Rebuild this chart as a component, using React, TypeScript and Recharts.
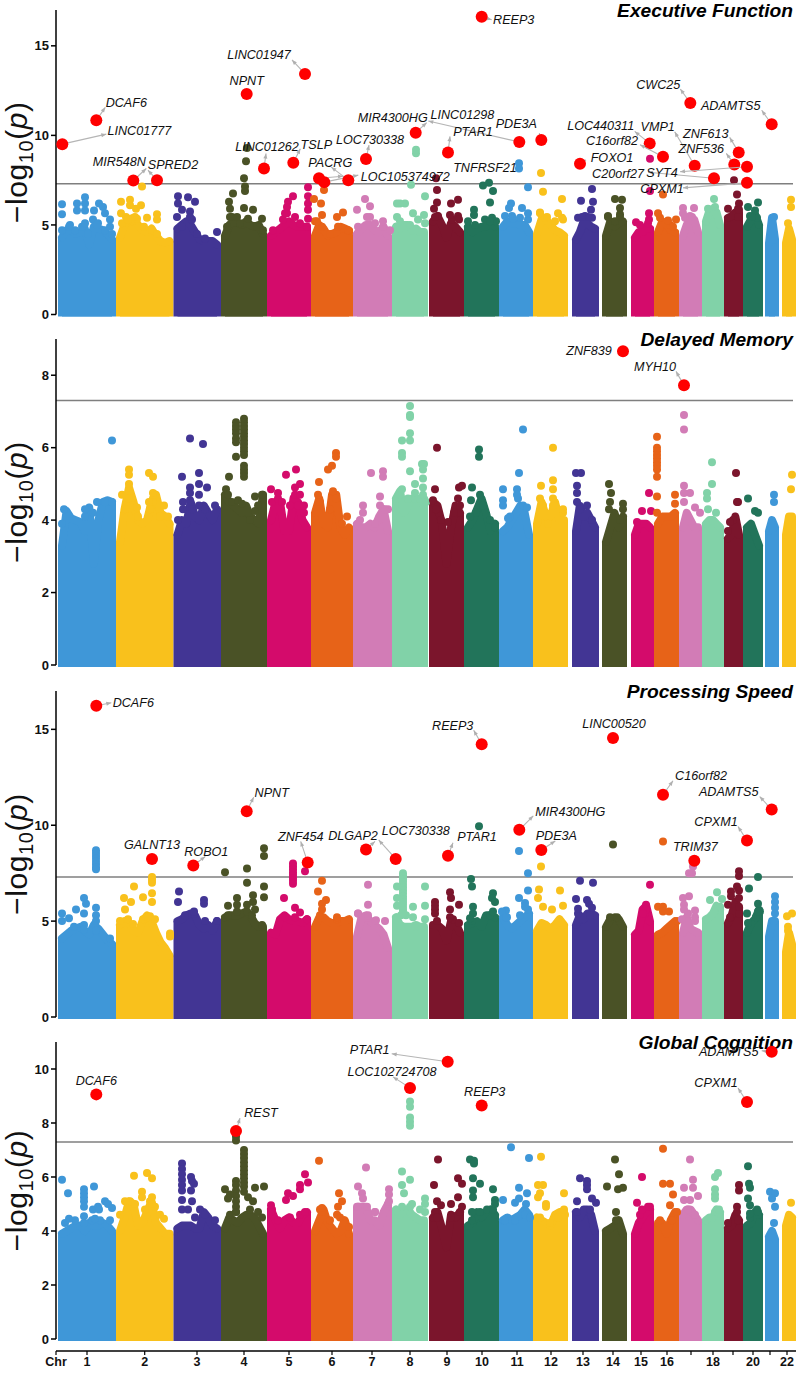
import React from "react";
import { Area, ComposedChart, ReferenceLine, Scatter, XAxis, YAxis } from "recharts";

const FONT = "'Liberation Sans', Arial, sans-serif";

// chromosome extents on the shared genome axis
const chromStart = [58, 116, 173.5, 221, 267, 311, 353, 392, 429, 464, 499, 533, 572, 602, 631, 654, 679, 702, 724, 743, 765, 782];
const chromEnd = [116, 173.5, 221, 267, 311, 353, 392, 428, 464, 499, 533, 568, 599, 627, 654, 679, 702, 724, 743, 763, 779, 796];
const chromColors = [
  "#3F97D8", "#F9C11C", "#423594", "#4A5226", "#D40B6B", "#E76318", "#D27CB6", "#81D2A8", "#7B152C", "#22745A", "#3F97D8",
  "#F9C11C", "#423594", "#4A5226", "#D40B6B", "#E76318", "#D27CB6", "#81D2A8", "#7B152C", "#22745A", "#3F97D8", "#F9C11C",
];
const xTicks = [56, 87, 144.7, 197, 244, 289, 332, 372, 410, 447, 482, 517, 551, 583, 613, 641, 667, 691, 713, 733, 753, 770, 787];
const xTickLabels = ["Chr", "1", "2", "3", "4", "5", "6", "7", "8", "9", "10", "11", "12", "13", "14", "15", "16", "", "18", "", "20", "", "22"];
const threshold = 7.3;

// top of the solid mass, left to right along each chromosome
const envelope1 = [
  [4.3, 4.7, 4.7, 4.5, 4.6, 4.8, 3.9, 4.9, 4.8, 4.7, 4.5, 4.2], [4.3, 5.0, 5.3, 5.4, 5.0, 4.7, 4.6, 4.8, 4.4, 4.1, 4.0, 4.1],
  [4.8, 5.0, 5.2, 5.0, 4.6, 4.2, 4.1, 4.1, 4.1, 3.9], [4.4, 5.0, 5.2, 5.1, 5.0, 5.2, 5.0, 4.9, 5.0, 4.5],
  [4.4, 4.6, 4.8, 5.0, 5.2, 5.0, 4.9, 4.9, 4.9], [4.4, 5.0, 4.8, 4.4, 4.5, 4.6, 4.9, 4.8, 4.7],
  [4.5, 4.8, 5.0, 5.0, 4.7, 4.6, 4.9, 4.4], [4.9, 4.8, 5.0, 5.0, 4.7, 4.8, 4.6, 4.6],
  [5.2, 5.5, 5.0, 4.3, 5.1, 4.9, 4.6], [4.9, 4.6, 4.8, 4.9, 4.9, 5.1, 4.9], [4.9, 5.2, 5.1, 5.1, 5.0, 5.0, 4.6], [4.5, 5.3, 5.3, 5.0, 4.7, 4.6, 4.4],
  [4.2, 4.6, 5.2, 5.1, 4.9, 4.8], [4.4, 5.2, 4.9, 5.1, 5.2], [4.3, 4.6, 4.6, 4.9, 4.8], [4.6, 5.2, 5.1, 4.7, 4.6], [4.4, 5.0, 5.4, 5.3, 4.6],
  [5.2, 5.8, 5.9, 5.7, 5.0], [5.4, 5.5, 5.7, 5.7], [4.9, 5.3, 5.6, 5.0], [4.0, 5.4, 4.2], [4.0, 4.8, 4.2],
];
const envelope2 = [
  [3.3, 4.25, 4.05, 4.0, 3.95, 3.7, 4.35, 2.8, 4.0, 4.5, 4.55, 4.5], [3.4, 4.3, 4.9, 4.5, 4.0, 3.9, 4.0, 4.5, 4.7, 4.2, 4.1, 3.9],
  [3.6, 4.0, 3.9, 4.5, 4.1, 4.0, 4.4, 4.2, 4.0, 4.3], [4.7, 4.5, 4.4, 4.3, 4.2, 4.4, 4.1, 4.0, 3.9, 4.7],
  [4.0, 4.5, 4.5, 3.7, 3.7, 4.6, 4.5, 4.0, 3.8], [4.2, 4.6, 3.9, 3.8, 4.7, 4.7, 3.8, 3.6, 3.8],
  [3.9, 3.8, 3.8, 3.9, 3.8, 4.1, 4.3, 3.7], [4.6, 4.8, 4.2, 4.4, 4.6, 4.6, 4.5, 4.6],
  [4.5, 4.4, 3.9, 2.8, 3.8, 4.4, 4.2], [3.8, 4.0, 4.3, 4.6, 4.2, 3.7, 3.9], [3.7, 3.8, 4.0, 4.2, 4.4, 4.2, 3.6], [3.9, 4.5, 4.1, 4.1, 4.5, 4.0, 4.0],
  [3.7, 4.4, 4.1, 4.2, 4.0, 3.8], [3.4, 3.8, 4.2, 3.8, 4.1], [3.6, 3.9, 3.9, 3.9, 3.8], [3.9, 4.1, 4.1, 4.1, 4.2], [3.8, 4.2, 4.0, 3.8, 3.8],
  [3.9, 4.0, 4.0, 3.9, 3.8], [3.5, 3.6, 4.1, 3.6], [3.8, 3.9, 3.6, 3.3], [3.7, 4.0, 3.8], [3.6, 4.1, 4.1],
];
const envelope3 = [
  [4.1, 4.3, 4.5, 4.6, 4.7, 4.5, 4.3, 4.8, 4.6, 4.3, 4.0, 3.8], [4.8, 5.0, 4.9, 4.5, 4.4, 5.0, 5.3, 5.0, 4.4, 3.9, 3.6, 3.2],
  [5.0, 5.1, 5.3, 5.4, 5.3, 4.8, 4.6, 4.8, 4.5, 5.0], [5.2, 5.3, 5.3, 5.3, 5.4, 5.5, 5.3, 4.9, 4.7, 4.7],
  [4.4, 4.3, 5.1, 5.3, 5.1, 5.0, 5.0, 4.9, 5.1], [4.7, 5.2, 5.2, 5.0, 4.9, 4.9, 5.0, 5.0, 5.1],
  [4.2, 5.2, 5.3, 5.0, 4.8, 4.6, 4.3, 3.6], [5.2, 4.8, 4.7, 4.7, 4.7, 4.8, 4.7, 4.7],
  [4.8, 4.8, 4.6, 4.0, 5.0, 4.9, 4.4], [4.8, 4.9, 5.0, 4.7, 5.3, 5.3, 5.2], [5.2, 4.8, 4.6, 4.8, 5.0, 5.2, 5.4], [4.5, 4.9, 4.8, 4.6, 4.8, 5.1, 4.8],
  [4.8, 5.3, 5.1, 5.4, 5.4, 5.3], [4.7, 5.1, 5.2, 5.1, 4.7], [4.3, 4.5, 5.6, 5.8, 5.0], [4.3, 4.4, 4.6, 4.8, 5.0], [4.4, 5.2, 4.6, 4.5, 4.4],
  [5.1, 5.2, 5.4, 5.8, 5.6], [4.9, 5.3, 6.0, 5.7], [4.4, 4.9, 5.1, 5.6], [4.2, 5.0, 5.0], [3.4, 4.4, 3.8],
];
const envelope4 = [
  [3.9, 4.0, 4.1, 4.2, 4.2, 4.0, 4.3, 4.2, 4.2, 4.3, 4.2, 4.0], [4.0, 4.5, 5.1, 5.0, 4.2, 4.3, 4.7, 5.1, 4.3, 4.1, 3.9, 3.9],
  [4.1, 4.2, 4.2, 4.2, 4.1, 4.1, 4.7, 4.5, 4.2, 4.1], [4.1, 4.5, 4.4, 4.3, 4.5, 4.6, 4.6, 4.5, 4.2, 3.9],
  [4.8, 4.4, 4.1, 4.4, 4.5, 4.3, 4.3, 4.6, 4.7], [4.0, 4.4, 4.8, 4.3, 4.1, 3.9, 4.0, 4.4, 3.9],
  [4.9, 4.9, 4.9, 4.4, 4.4, 4.2, 4.7, 5.0], [4.8, 4.6, 4.8, 4.8, 4.6, 4.5, 4.4, 4.4],
  [4.5, 4.7, 4.1, 3.4, 4.6, 4.5, 4.7], [4.2, 4.3, 4.7, 4.5, 4.7, 4.8, 4.6], [4.4, 4.5, 4.4, 4.5, 4.6, 4.8, 4.6], [4.5, 4.4, 4.3, 4.2, 4.6, 4.7, 4.7],
  [4.7, 4.5, 4.8, 4.8, 4.6, 4.0], [4.0, 4.1, 4.2, 4.4, 3.9], [3.9, 4.3, 4.5, 4.7, 4.8], [4.3, 4.3, 3.9, 4.4, 4.7], [4.6, 4.8, 4.8, 4.6, 4.4],
  [4.4, 4.5, 4.5, 4.8, 4.7], [4.1, 4.2, 4.6, 4.4], [4.2, 4.3, 4.7, 4.6], [3.8, 4.0, 3.7], [4.2, 4.6, 4.5],
];

// single SNPs standing clear of the mass: [position, -log10 p]
const spikes1 = [
  [62, 6.15], [62, 5.6], [70, 5.0], [77, 5.8], [77, 6.2], [85, 6.55], [85, 6.2], [85, 5.8], [85, 5.1], [94, 5.8], [99, 6.2], [103, 6.0], [105, 5.65], [110, 5.3], [110, 4.9], [97, 5.0],
  [121, 6.3], [130, 6.4], [130, 6.1], [136, 5.9], [141, 6.1], [142, 7.15], [147, 5.4], [157, 5.6], [157, 5.3], [135, 5.45], [128, 5.3], [121, 5.65],
  [178, 6.6], [178, 6.2], [188, 6.55], [195, 6.3], [190, 5.75], [190, 5.45], [217, 4.6], [182, 5.85],
  [233, 6.75], [229, 6.3], [244, 7.6], [246, 8.55], [247, 9.3], [245, 7.15], [245, 6.9], [230, 5.9], [244, 5.95], [253, 5.85], [262, 5.35], [237, 5.45], [230, 5.45],
  [308, 7.1], [308, 6.6], [308, 6.2], [308, 5.85], [308, 5.35], [293, 6.6], [288, 6.3], [287, 6.0], [295, 5.45], [285, 5.65],
  [324, 6.95], [314, 6.45], [321, 6.2], [322, 5.55], [317, 5.2], [343, 5.7], [337, 5.45],
  [365, 6.45], [370, 6.05], [357, 5.85], [370, 5.45], [383, 5.2],
  [416, 9.0], [416, 9.2], [411, 7.25], [425, 6.6], [424, 5.55], [405, 6.2], [400, 6.2], [397, 5.45], [397, 6.2], [413, 5.65],
  [436, 7.6], [437, 6.95], [437, 6.25], [451, 6.2], [458, 6.4], [450, 5.55], [459, 5.3], [435, 5.45],
  [483, 7.2], [489, 7.35], [493, 6.9], [490, 6.25], [474, 5.85], [474, 5.55], [490, 5.2],
  [519, 8.45], [519, 8.15], [528, 7.1], [511, 6.2], [509, 5.95], [522, 5.95], [528, 5.65], [513, 5.35],
  [541, 7.9], [543, 6.85], [562, 6.45], [540, 5.65], [547, 5.45], [558, 5.65], [563, 5.3],
  [592, 7.0], [581, 6.35], [593, 6.3], [591, 5.85], [588, 5.45], [582, 5.45],
  [615, 6.45], [622, 6.4], [620, 5.95], [620, 5.45], [608, 5.45],
  [650, 8.7], [650, 6.9], [636, 5.15], [649, 5.65], [649, 5.3],
  [663, 6.7], [658, 5.65], [668, 5.25], [676, 5.3], [673, 4.9],
  [683, 5.95], [694, 5.95], [683, 5.65], [692, 5.45], [714, 6.45],
  [734, 7.5], [737, 6.7], [739, 6.2], [739, 5.85], [738, 5.45],
  [758, 6.25], [748, 6.0], [755, 5.8], [752, 5.45], [774, 5.45], [791, 6.4], [791, 6.0], [788, 5.1],
];
const spikes2 = [
  [112, 6.2],
  [129, 5.4], [129, 5.25], [149, 5.3], [153, 5.2], [122, 4.7], [164, 4.4], [153, 4.75], [149, 4.5], [137, 4.35],
  [190, 6.25], [203, 6.1], [182, 5.2], [199, 5.3], [199, 5.0], [190, 4.9], [190, 4.75], [207, 4.9], [199, 4.7], [183, 4.5],
  [244, 6.8], [244, 6.7], [244, 6.6], [244, 6.5], [244, 6.4], [244, 6.3], [244, 6.2], [244, 6.1], [244, 6.0], [244, 5.9], [244, 5.8], [244, 5.5], [244, 5.4], [244, 5.3], [244, 5.2],
  [236, 6.7], [236, 6.6], [236, 6.5], [236, 6.4], [236, 6.25], [236, 6.15], [236, 5.75], [229, 5.2], [255, 4.65], [255, 4.25],
  [271, 4.85], [286, 5.25], [296, 5.4], [300, 5.0], [295, 4.9], [278, 4.75], [300, 4.7], [304, 4.4],
  [336, 5.85], [336, 5.75], [332, 5.5], [328, 5.4], [319, 5.05], [347, 4.1],
  [371, 5.3], [383, 5.35], [383, 5.2], [380, 4.65], [363, 4.4], [363, 4.2],
  [410, 7.15], [410, 6.9], [410, 6.85], [410, 6.4], [410, 6.2], [402, 6.2], [402, 5.85], [402, 5.75], [422, 5.55], [424, 5.55], [423, 5.4], [423, 5.15], [423, 4.9], [423, 4.7], [410, 5.35], [402, 4.85], [415, 5.0], [415, 4.75],
  [437, 6.0], [435, 4.85], [459, 4.9], [462, 4.95], [448, 3.95],
  [479, 5.95], [479, 5.75], [472, 4.9], [471, 4.55], [470, 4.1],
  [523, 6.5], [519, 5.3], [503, 4.85], [503, 4.55], [503, 4.4], [517, 4.85], [517, 4.7], [508, 4.05],
  [553, 6.0], [541, 4.95], [553, 5.1], [553, 4.85], [553, 4.6], [563, 4.3],
  [576, 5.3], [581, 5.3], [577, 4.95], [577, 4.75],
  [609, 5.0], [611, 4.75], [610, 4.5], [623, 4.45], [623, 4.3],
  [649, 4.75], [642, 4.25], [651, 4.25], [637, 3.95],
  [657, 6.3], [657, 6.0], [657, 5.9], [657, 5.8], [657, 5.7], [657, 5.6], [657, 5.5], [657, 5.4], [657, 5.2], [657, 4.65], [675, 4.7], [675, 4.45], [657, 4.2],
  [684, 6.9], [684, 6.5], [684, 4.95], [690, 4.75], [684, 4.75], [684, 4.5], [695, 4.35], [700, 4.2],
  [712, 5.6], [712, 5.0], [707, 4.75], [707, 4.6], [708, 4.3], [716, 4.2],
  [736, 5.3], [737, 4.5], [738, 4.5], [733, 4.0], [730, 3.95], [728, 3.7],
  [748, 4.6], [755, 4.25], [758, 4.2], [774, 4.7], [774, 4.5], [792, 5.25], [791, 4.85],
];
const spikes3 = [
  [62, 5.4], [62, 5.0], [69, 5.15], [76, 5.6], [84, 6.2], [86, 5.9], [84, 5.4], [84, 4.8], [84, 4.55],
  [96, 8.7], [96, 8.55], [96, 8.4], [96, 8.25], [96, 8.1], [96, 7.95], [96, 7.8], [96, 7.7], [96, 5.7], [96, 5.3], [96, 5.0], [96, 4.5], [74, 4.7], [110, 4.1],
  [134, 6.8], [124, 6.2], [131, 6.0], [143, 6.25], [152, 7.3], [152, 7.15], [152, 7.0], [152, 6.45], [152, 6.0], [125, 5.6], [133, 4.85], [170, 4.35], [170, 4.2], [148, 5.2],
  [179, 6.55], [178, 6.0], [204, 6.1], [204, 5.9], [194, 5.5],
  [225, 7.55], [247, 7.75], [247, 7.0], [264, 8.8], [264, 8.4], [264, 6.8], [264, 6.25], [253, 6.35], [237, 6.2], [237, 5.85], [228, 5.8], [253, 6.0], [247, 5.85], [255, 5.6],
  [293, 8.0], [293, 7.85], [293, 7.7], [293, 7.55], [293, 7.4], [293, 7.25], [293, 7.1], [293, 6.95], [305, 7.6], [284, 6.2], [295, 5.7], [300, 5.45],
  [322, 7.1], [318, 6.55], [326, 6.1], [322, 5.9], [322, 5.6], [337, 5.2],
  [368, 6.9], [368, 5.85], [358, 5.4], [368, 5.3], [385, 5.0], [376, 5.05],
  [403, 7.5], [403, 7.35], [403, 7.2], [403, 7.05], [403, 6.9], [403, 6.75], [403, 6.6], [403, 6.45], [403, 6.3], [403, 6.15], [403, 6.0], [403, 5.85], [403, 5.7], [403, 5.55], [403, 5.4],
  [397, 6.8], [397, 6.2], [397, 5.8], [425, 6.8], [413, 5.75], [425, 5.8], [425, 5.1], [413, 5.2],
  [435, 6.0], [435, 5.8], [435, 5.6], [435, 5.4], [450, 6.5], [451, 6.2], [459, 5.85], [450, 5.6], [450, 5.2],
  [479, 9.95], [471, 7.2], [472, 6.8], [493, 6.45], [492, 6.2], [495, 6.0], [473, 5.75], [473, 5.4], [470, 5.15],
  [519, 8.65], [528, 7.5], [528, 6.6], [519, 6.2], [525, 5.95], [506, 5.55], [502, 5.5], [525, 5.75], [506, 5.2],
  [541, 7.85], [539, 6.65], [560, 6.6], [538, 6.2], [543, 5.75], [552, 5.6], [563, 5.8],
  [580, 7.1], [593, 7.0], [576, 6.15], [578, 5.65], [587, 6.1], [589, 5.9], [592, 5.7],
  [613, 9.0],
  [650, 6.9], [646, 5.85], [646, 5.6], [643, 5.4],
  [663, 9.15], [658, 5.75], [663, 5.75], [669, 5.5], [663, 5.5],
  [693, 7.85], [692, 7.5], [689, 7.5], [689, 6.3], [683, 6.2], [684, 5.85], [684, 5.6], [695, 5.55], [695, 5.2], [682, 5.1],
  [717, 6.5], [710, 6.1], [722, 6.15], [720, 5.75],
  [739, 7.6], [739, 7.35], [737, 6.8], [739, 6.6], [731, 6.55], [731, 6.3], [728, 5.85], [739, 6.2], [739, 5.75],
  [758, 7.3], [749, 6.7], [758, 5.9], [758, 5.5], [747, 5.4], [748, 4.9],
  [775, 6.3], [775, 6.0], [775, 5.7], [775, 5.4], [792, 5.4], [787, 5.25], [788, 4.7],
];
const spikes4 = [
  [62, 5.9], [68, 5.4], [69, 4.45], [84, 5.55], [84, 5.4], [84, 5.25], [84, 5.1], [84, 4.9], [94, 5.65], [93, 4.8], [98, 4.9], [99, 4.8], [105, 5.1], [108, 5.0], [112, 4.85], [84, 4.55], [95, 4.45],
  [134, 6.05], [147, 6.15], [152, 5.95], [142, 5.45], [142, 5.25], [120, 4.6], [152, 5.25], [152, 5.0], [160, 4.6], [164, 4.45],
  [182, 6.5], [182, 6.3], [182, 6.1], [182, 5.9], [182, 5.7], [182, 5.5], [182, 5.15], [191, 6.0], [192, 5.85], [194, 5.75], [191, 5.5], [192, 5.1], [188, 4.8], [195, 4.5], [182, 4.8],
  [244, 7.0], [244, 6.85], [244, 6.7], [244, 6.55], [244, 6.4], [244, 6.25], [244, 6.1], [244, 5.95], [244, 5.8], [244, 5.65], [244, 5.45], [248, 5.25], [253, 5.1], [255, 5.6], [264, 5.65],
  [236, 7.5], [236, 7.35], [236, 5.85], [236, 5.7], [236, 5.5], [236, 5.3], [236, 5.1], [236, 4.9], [236, 4.7], [225, 5.55], [230, 5.35], [228, 5.2],
  [305, 6.1], [308, 5.8], [300, 5.7], [300, 5.55], [288, 5.4], [293, 5.3], [286, 5.15], [271, 4.95], [271, 4.7],
  [319, 6.6], [339, 5.4], [342, 5.1], [338, 4.9], [337, 4.6], [349, 4.15], [322, 4.85],
  [366, 6.35], [358, 5.65], [362, 5.4], [363, 5.2], [389, 5.55], [389, 5.35], [389, 5.1], [375, 4.7],
  [410, 8.8], [410, 8.6], [410, 8.2], [410, 8.05], [410, 7.9], [402, 6.2], [402, 5.7], [404, 5.4], [410, 5.9], [425, 5.2], [425, 5.0], [412, 5.0],
  [438, 6.65], [458, 5.95], [462, 5.75], [434, 5.7], [458, 5.25], [451, 5.0], [437, 5.1], [441, 4.95], [462, 4.9],
  [470, 6.65], [474, 6.6], [474, 6.5], [473, 5.95], [480, 5.75], [473, 5.5], [473, 5.25], [493, 5.55], [495, 5.15], [495, 5.0], [472, 4.7],
  [511, 7.1], [529, 6.7], [519, 5.6], [527, 5.4], [503, 5.15], [515, 5.05], [519, 5.2], [526, 5.0],
  [541, 6.75], [538, 5.7], [543, 5.7], [564, 5.4], [540, 5.4], [538, 5.25], [546, 5.0], [546, 4.9], [564, 4.8],
  [580, 5.95], [587, 5.85], [587, 5.7], [587, 5.55], [577, 5.1], [592, 5.2], [596, 5.05],
  [615, 6.65], [619, 6.1], [607, 5.65], [618, 5.55], [623, 5.6], [616, 4.7],
  [642, 6.0], [637, 5.05], [648, 4.9], [642, 4.8],
  [663, 7.05], [663, 5.75], [670, 5.75], [673, 5.35], [670, 4.95],
  [690, 6.65], [693, 5.9], [684, 5.6], [693, 5.6], [698, 5.3], [684, 5.15], [690, 5.15],
  [715, 6.0], [718, 6.15], [715, 5.55], [715, 5.35], [715, 5.2],
  [739, 5.7], [739, 5.5], [737, 4.9], [728, 4.3],
  [748, 6.4], [749, 5.75], [750, 5.6], [748, 5.2], [750, 4.95], [758, 4.7], [750, 4.65],
  [770, 5.45], [775, 5.4], [772, 5.2], [775, 4.9], [774, 4.3], [791, 5.05],
];

// SNPs that roughen the top edge of the mass
const ridge1 = [
  [62, 4.7], [69, 4.9], [75, 4.7], [82, 4.9], [88, 4.5], [93, 5.3], [98, 5.1], [105, 4.7], [112, 4.5],
  [122, 5.1], [126, 5.45], [132, 5.2], [137, 5.35], [144, 4.9], [152, 4.7], [157, 4.5],
  [177, 5.45], [182, 4.9], [192, 5.3], [197, 4.5], [205, 4.25],
  [227, 4.9], [232, 5.45], [240, 5.1], [248, 5.35], [257, 4.9], [263, 4.7],
  [273, 4.7], [283, 5.3], [287, 5.65], [300, 5.1], [307, 4.9],
  [315, 5.2], [322, 4.9], [330, 4.5], [338, 4.9], [348, 4.7],
  [358, 4.9], [367, 5.45], [375, 5.1], [383, 4.9], [390, 4.7],
  [400, 5.2], [410, 5.0], [418, 5.3], [425, 5.1],
  [434, 5.9], [438, 5.5], [452, 5.3], [458, 5.5],
  [468, 5.2], [475, 5.0], [485, 5.3], [492, 5.4], [496, 5.2],
  [505, 5.5], [512, 5.5], [520, 5.4], [528, 5.3],
  [540, 5.7], [545, 5.4], [555, 5.2], [562, 5.4],
  [578, 5.4], [585, 5.5], [592, 5.4], [608, 5.5], [615, 5.2], [620, 5.6],
  [640, 5.0], [648, 5.1], [660, 5.4], [670, 5.0], [685, 5.4], [690, 5.5],
  [708, 5.9], [715, 6.0], [728, 5.9], [738, 5.9], [750, 5.5], [757, 5.4],
];
const ridge2 = [
  [62, 3.9], [64, 4.3], [85, 4.1], [85, 4.3], [93, 4.2], [97, 4.5], [105, 4.5], [112, 4.5],
  [129, 5.0], [129, 4.8], [129, 4.6], [153, 4.6], [153, 4.5], [125, 4.3], [133, 4.4], [138, 4.1], [150, 4.3], [160, 4.1], [168, 4.1],
  [183, 4.3], [190, 4.55], [192, 4.3], [199, 4.4], [205, 4.3], [215, 4.4], [178, 4.0],
  [226, 4.85], [228, 4.7], [232, 4.5], [238, 4.55], [242, 4.45], [262, 4.7], [258, 4.4], [250, 4.0],
  [272, 4.5], [278, 4.6], [282, 4.5], [295, 4.7], [298, 4.4], [290, 4.4], [304, 4.2],
  [318, 4.7], [320, 4.5], [333, 4.8], [336, 4.6], [330, 4.3], [342, 3.9],
  [360, 4.0], [375, 3.9], [380, 4.4], [388, 4.3], [385, 4.3],
  [400, 4.7], [408, 4.6], [415, 4.6], [420, 4.6], [426, 4.5],
  [433, 4.55], [436, 4.3], [441, 4.0], [454, 4.2], [458, 4.6], [460, 4.4],
  [480, 4.7], [483, 4.4], [476, 4.2], [490, 4.0], [495, 3.8],
  [518, 4.6], [523, 4.4], [527, 4.35], [510, 4.1],
  [540, 4.6], [543, 4.4], [553, 4.4], [563, 4.2], [548, 3.9],
  [577, 4.5], [580, 4.3], [587, 4.4], [592, 4.0], [609, 4.3], [620, 4.0],
];
const ridge3 = [
  [128, 5.1], [143, 5.1], [150, 5.25], [155, 5.1], [120, 5.0],
  [185, 5.3], [194, 5.4], [205, 5.0], [217, 5.0],
  [228, 5.3], [237, 5.5], [247, 5.5], [252, 5.3], [262, 4.8],
  [285, 5.2], [295, 5.2], [307, 5.1], [320, 5.3], [337, 5.1],
  [358, 5.4], [368, 5.2], [375, 5.0], [401, 5.3], [406, 5.3],
  [437, 5.0], [453, 5.1], [459, 4.9], [472, 5.0], [490, 5.3], [493, 5.5],
  [507, 5.2], [520, 5.3], [528, 5.6], [578, 5.4], [590, 5.3], [610, 5.2], [617, 5.2],
  [645, 5.4], [677, 5.0], [688, 5.4], [695, 5.0], [720, 5.7], [730, 5.2], [739, 5.4], [756, 5.2], [760, 5.5], [774, 5.0], [788, 4.5],
];
const ridge4 = [
  [65, 4.3], [75, 4.4], [84, 4.3], [92, 4.4], [100, 4.4], [110, 4.4],
  [125, 5.1], [130, 5.1], [135, 5.0], [150, 5.1], [155, 4.9], [145, 4.8],
  [200, 4.8], [205, 4.6], [215, 4.4],
  [230, 4.6], [236, 4.7], [250, 4.8], [258, 4.7], [262, 4.5],
  [272, 4.8], [278, 4.4], [290, 4.5], [300, 4.6], [305, 4.7],
  [320, 4.8], [322, 4.7], [340, 4.5], [330, 4.4],
  [358, 4.9], [367, 4.9], [375, 4.7], [388, 5.0],
  [402, 4.9], [410, 4.9], [420, 4.8], [425, 4.7],
  [435, 4.7], [437, 4.5], [451, 4.5], [460, 4.7],
  [472, 4.4], [480, 4.7], [487, 4.8], [493, 4.8],
  [505, 4.4], [515, 4.4], [525, 4.6], [530, 4.5],
  [540, 4.5], [550, 4.3], [558, 4.5], [565, 4.6],
  [577, 4.7], [590, 4.8], [616, 4.4], [640, 4.6], [650, 4.9], [660, 4.4], [672, 4.4], [677, 4.7],
  [688, 4.8], [695, 4.6], [715, 4.7], [719, 4.8], [737, 4.7], [738, 4.4], [750, 4.5], [757, 4.8],
];

// genome-wide significant loci: [gene, position, -log10 p]
const hits1 = [
  ["DCAF6", 96.3, 10.84], ["LINC01777", 62.3, 9.51], ["MIR548N", 133.3, 7.48], ["SPRED2", 157, 7.5], ["NPNT", 246.7, 12.31],
  ["LINC01947", 305, 13.43], ["LINC01262", 264, 8.15], ["TSLP", 293.3, 8.47], ["", 319, 7.61], ["LOC105374972", 324.3, 7.39], ["PACRG", 348.3, 7.5],
  ["LOC730338", 366, 8.68], ["MIR4300HG", 415.7, 10.15], ["LINC01298", 519.3, 9.63], ["PTAR1", 448, 9.05], ["PDE3A", 541.3, 9.74],
  ["REEP3", 481.7, 16.62], ["TNFRSF21", 489, 7.35], ["FOXO1", 580, 8.41], ["LOC440311", 649.7, 9.55], ["C16orf82", 663, 8.81],
  ["VMP1", 694.7, 8.3], ["CWC25", 690.3, 11.81], ["ADAMTS5", 771.7, 10.62], ["ZNF613", 738.7, 9.05], ["ZNF536", 734.3, 8.38],
  ["C20orf27", 714, 7.61], ["SYT4", 747, 8.25], ["CPXM1", 747, 7.35],
];
const hits2 = [["ZNF839", 623, 8.66], ["MYH10", 684, 7.72]];
const hits3 = [
  ["DCAF6", 96.3, 16.23], ["GALNT13", 152, 8.24], ["ROBO1", 193.3, 7.9], ["NPNT", 246.7, 10.73], ["ZNF454", 307.7, 8.06], ["DLGAP2", 366, 8.74],
  ["LOC730338", 395.7, 8.24], ["PTAR1", 448, 8.41], ["REEP3", 481.7, 14.22], ["LINC00520", 613, 14.55], ["MIR4300HG", 519.3, 9.76], ["PDE3A", 541.3, 8.71],
  ["C16orf82", 663, 11.59], ["ADAMTS5", 771.7, 10.82], ["CPXM1", 747, 9.2], ["TRIM37", 694.3, 8.15],
];
const hits4 = [
  ["DCAF6", 96.3, 9.06], ["REST", 236, 7.7], ["PTAR1", 447.7, 10.27], ["LOC102724708", 410, 9.3], ["REEP3", 481.7, 8.65], ["ADAMTS5", 771.7, 10.64], ["CPXM1", 747, 8.78],
];

// label text offset and leader end, relative to the dot: [dx, dy, endDx, endDy]
const spots1 = [
  [30, -18, 9, -13], [77, -14, 44, -10], [-14, -19, 13, -12], [16, -16, -9, -10], [0, -14], [-46, -19, -13, -14], [3, -22, 2, -15], [23, -18, 7, -14], [0, 0, 24, -2], [81, -6, 34, -7], [-18, -18, -17, -13],
  [4, -20, 3, -14], [-23, -15, 11, -10], [-57, -28, -91, -21], [25, -21, 2, -16], [-25, -17, -2, -7], [32, 3, 10, 3], [-4, -15], [32, -6, 6, -4], [-49, -18, -15, -12], [-51, -16, -23, -12],
  [-37, -39, -20, -34], [-32, -18, -10, -14], [-41, -19, -10, -14], [-33, -19, -9, -15], [-33, -16, -8, -11], [-96, -5, -66, -6], [-85, 6, -67, 5], [-85, 6, -64, 5],
];
const spots2 = [[-34, -1, -6, -1], [-29, -19, -8, -14]];
const spots3 = [
  [37, -3, 15, -3], [0, -14], [13, -14, 12, -9], [25, -19, 7, -14], [-7, -26, -7, -21], [-13, -14, 9, -8], [20, -28, -17, -19], [29, -19, 5, -13],
  [-29, -19, -8, -14], [1, -14], [51, -18, 14, -14], [15, -14, 14, -9], [38, -19, 10, -14], [-43, -18, -12, -13], [-31, -19, -9, -14], [1, -14],
];
const spots4 = [[0, -14], [25, -19, 4, -13], [-78, -12, -56, -8], [-18, -16, -17, -11], [3, -14], [-43, 0, -10, -1], [-31, -19, -9, -14]];
const undottedGenes = ["TNFRSF21"];

const panels = [
  { title: "Executive Function", plotTop: 10, plotBottom: 314.5, yMax: 17, yTicks: [0, 5, 10, 15], envelope: envelope1, spikes: [...ridge1, ...spikes1], hits: hits1, spots: spots1 },
  { title: "Delayed Memory", plotTop: 339, plotBottom: 665, yMax: 9, yTicks: [0, 2, 4, 6, 8], envelope: envelope2, spikes: [...ridge2, ...spikes2], hits: hits2, spots: spots2 },
  { title: "Processing Speed", plotTop: 691, plotBottom: 1017, yMax: 17, yTicks: [0, 5, 10, 15], envelope: envelope3, spikes: [...ridge3, ...spikes3], hits: hits3, spots: spots3 },
  { title: "Global Cognition", plotTop: 1042, plotBottom: 1339, yMax: 11, yTicks: [0, 2, 4, 6, 8, 10], envelope: envelope4, spikes: [...ridge4, ...spikes4], hits: hits4, spots: spots4 },
];

const X_DOMAIN = [56, 796];
const PAD = 10;

function chromColor(pos: number) {
  const idx = chromEnd.findIndex((end) => pos <= end);
  return chromColors[idx < 0 ? 21 : idx];
}

function SpikeDot({ cx, cy, payload }: any) {
  return <circle cx={cx} cy={cy} r={4} fill={chromColor(payload.pos)} />;
}

function HitMark({ cx, cy, payload }: any) {
  const [dx, dy, ex, ey] = payload.spot;
  const hasLeader = ex !== undefined;
  let arrow = null;
  if (hasLeader) {
    const len = Math.hypot(ex, ey) || 1;
    const ux = ex / len;
    const uy = ey / len;
    const tipX = cx + ex;
    const tipY = cy + ey;
    const baseX = tipX - ux * 5;
    const baseY = tipY - uy * 5;
    arrow = (
      <polygon
        points={`${tipX},${tipY} ${baseX - uy * 2},${baseY + ux * 2} ${baseX + uy * 2},${baseY - ux * 2}`}
        fill="#b0b0b0"
      />
    );
  }
  return (
    <g>
      {hasLeader && <line x1={cx} y1={cy} x2={cx + ex} y2={cy + ey} stroke="#b5b5b5" strokeWidth={1.1} />}
      {arrow}
      {!undottedGenes.includes(payload.gene) && <circle cx={cx} cy={cy} r={6} fill="#FF0000" />}
      {payload.gene && (
        <text x={cx + dx} y={cy + dy + 4.5} textAnchor="middle" fontFamily={FONT} fontStyle="italic" fontSize={12.6} fill="#111">
          {payload.gene}
        </text>
      )}
    </g>
  );
}

function ManhattanPanel({ panel }: { panel: any }) {
  const plotH = panel.plotBottom - panel.plotTop;
  const baseValue = (-2 * panel.yMax) / plotH;
  const spikeRows = panel.spikes.map(([pos, logp]: number[]) => ({ pos, logp }));
  const hitRows = panel.hits.map(([gene, pos, logp]: any[], i: number) => ({ gene, pos, logp, spot: panel.spots[i] }));

  return (
    <div style={{ position: "absolute", left: 0, top: panel.plotTop - PAD }}>
      <ComposedChart width={800} height={plotH + PAD * 2} margin={{ top: PAD, right: 4, bottom: PAD, left: 0 }}>
        <XAxis hide type="number" dataKey="pos" domain={X_DOMAIN} />
        <YAxis
          type="number"
          dataKey="logp"
          width={56}
          domain={[0, panel.yMax]}
          ticks={panel.yTicks}
          interval={0}
          tickSize={5}
          axisLine={{ stroke: "#000", strokeWidth: 1.5 }}
          tickLine={{ stroke: "#000", strokeWidth: 1.5 }}
          tick={{ fill: "#111", fontFamily: FONT, fontWeight: 700, fontSize: 13 }}
        />
        {panel.envelope.map((tops: number[], c: number) => {
          const inset = 4;
          const from = chromStart[c] + inset;
          const to = chromEnd[c] - inset;
          const rows = tops.map((logp, i) => ({ pos: from + ((to - from) * i) / (tops.length - 1), logp }));
          const filled = [{ pos: chromStart[c], logp: tops[0] }, ...rows, { pos: chromEnd[c], logp: tops[tops.length - 1] }];
          return (
            <React.Fragment key={c}>
              <Area
                data={filled}
                dataKey="logp"
                type="linear"
                baseValue={baseValue}
                stroke="none"
                fill={chromColors[c]}
                fillOpacity={1}
                dot={false}
                activeDot={false}
                isAnimationActive={false}
              />
              <Area
                data={rows}
                dataKey="logp"
                type="linear"
                baseValue={baseValue}
                stroke={chromColors[c]}
                strokeWidth={8}
                strokeLinecap="round"
                strokeLinejoin="round"
                fill={chromColors[c]}
                fillOpacity={1}
                dot={false}
                activeDot={false}
                isAnimationActive={false}
              />
            </React.Fragment>
          );
        })}
        <Scatter data={spikeRows} shape={SpikeDot} isAnimationActive={false} />
        <ReferenceLine
          segment={[{ x: 56, y: threshold }, { x: 793, y: threshold }]}
          stroke="#7f7f7f"
          strokeWidth={1.5}
        />
        <Scatter data={hitRows} shape={HitMark} isAnimationActive={false} />
        <text x={793} y={PAD + 7} textAnchor="end" fontFamily={FONT} fontStyle="italic" fontWeight={700} fontSize={19.2} fill="#000">
          {panel.title}
        </text>
        <text
          transform={`translate(27,${PAD + plotH / 2}) rotate(-90)`}
          textAnchor="middle"
          fontFamily={FONT}
          fontSize={30}
          letterSpacing={0.6}
          fill="#111"
        >
          −log
          <tspan fontSize={20} dy={6}>10</tspan>
          <tspan dy={-6}>(</tspan>
          <tspan fontStyle="italic">p</tspan>
          <tspan>)</tspan>
        </text>
      </ComposedChart>
    </div>
  );
}

function ChromAxis() {
  const rows = xTicks.map((pos) => ({ pos, logp: 0 }));
  return (
    <div style={{ position: "absolute", left: 0, top: 1340 }}>
      <ComposedChart width={800} height={37} data={rows} margin={{ top: 0, right: 4, bottom: 0, left: 56 }}>
        <XAxis
          type="number"
          dataKey="pos"
          domain={X_DOMAIN}
          ticks={xTicks}
          interval={0}
          height={26}
          tickSize={4}
          axisLine={{ stroke: "#000", strokeWidth: 1.5 }}
          tickLine={{ stroke: "#000", strokeWidth: 1.2 }}
          tick={{ fill: "#111", fontFamily: FONT, fontWeight: 700, fontSize: 12.5 }}
          tickFormatter={(pos: number) => xTickLabels[xTicks.indexOf(pos)]}
        />
        <YAxis hide type="number" dataKey="logp" domain={[0, 1]} />
      </ComposedChart>
    </div>
  );
}

export default function App() {
  return (
    <div style={{ position: "absolute", left: 0, top: 0, width: 800, height: 1377, background: "#fff", overflow: "hidden" }}>
      {panels.map((panel) => (
        <ManhattanPanel key={panel.title} panel={panel} />
      ))}
      <ChromAxis />
    </div>
  );
}
